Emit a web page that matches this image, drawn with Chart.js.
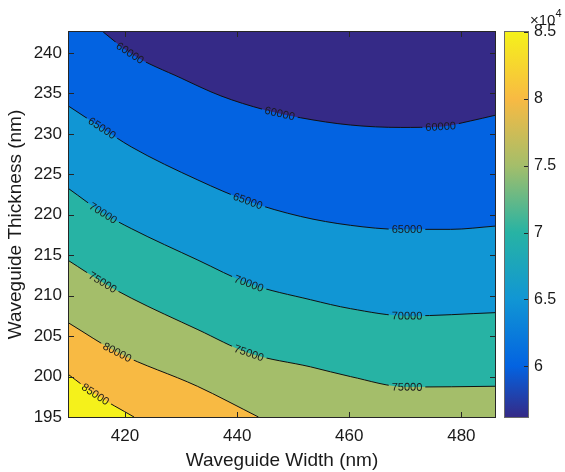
<!DOCTYPE html>
<html>
<head>
<meta charset="utf-8">
<title>Waveguide contour</title>
<script src="https://cdn.jsdelivr.net/npm/chart.js@4.4.0/dist/chart.umd.min.js"></script>
<style>
  html, body { margin: 0; padding: 0; background: #fff; }
  #wrap { position: relative; width: 565px; height: 472px; }
  #plot { position: absolute; left: 0; top: 0; }
  #cbar { position: absolute; left: 497px; top: 0; }
</style>
</head>
<body>
<div id="wrap">
  <canvas id="plot" width="565" height="472"></canvas>
  <canvas id="cbar" width="68" height="472"></canvas>
</div>
<script>
// contour levels and the iso-lines (width nm -> thickness nm)
const levels = [60000, 65000, 70000, 75000, 80000, 85000];

const width60 = [416.1, 421.1, 430.0, 437.1, 444.8, 451.3, 460.2, 469.2, 476.3, 481.6, 486];
const thick60 = [242.6, 239.9, 236.9, 234.7, 233.0, 232.0, 231.1, 230.8, 230.9, 231.6, 232.3];

const width65 = [410, 415.7, 421.1, 433.0, 441.9, 451.3, 460.2, 469.2, 478.1, 486];
const thick65 = [233.4, 230.8, 228.4, 224.3, 221.7, 219.8, 218.7, 218.2, 218.2, 218.6];

const width70 = [410, 416.1, 421.1, 433.0, 442.1, 453.1, 460.2, 470.4, 486];
const thick70 = [223.2, 220.2, 218.3, 214.4, 211.5, 209.5, 208.4, 207.5, 207.9];

const width75 = [410, 416.1, 421.1, 433.0, 442.1, 453.1, 460.2, 470.4, 486];
const thick75 = [214.3, 211.6, 209.7, 205.8, 202.9, 201.2, 200.0, 198.7, 198.8];

const width80 = [410, 418.6, 432.9, 443.8];
const thick80 = [206.6, 203.0, 198.8, 195];

const width85 = [410, 414.7, 421.6];
const thick85 = [200.2, 197.8, 195];

// where the inline contour labels sit (width value along each line)
const label60 = [420.9, 447.6, 476.3];
const label65 = [415.9, 441.9, 470.3];
const label70 = [416.1, 442.1, 470.3];
const label75 = [416.0, 442.1, 470.3];
const label80 = [418.6];
const label85 = [414.7];

const xTicks = [420, 440, 460, 480];
const yTicks = [195, 200, 205, 210, 215, 220, 225, 230, 235, 240];
const cbTicks = [6, 6.5, 7, 7.5, 8, 8.5];
const xRange = [410, 486];
const yRange = [195, 242.6];
const cbRange = [5.62, 8.5]; // x 10^4

const contourWidths = [width60, width65, width70, width75, width80, width85];
const contourThicks = [thick60, thick65, thick70, thick75, thick80, thick85];
const labelWidths = [label60, label65, label70, label75, label80, label85];

// band colours: <60k, 60-65k, 65-70k, 70-75k, 75-80k, 80-85k, >85k
const bandColors = ['#352A87', '#0363E1', '#1196D4', '#27B3A4', '#A4BE6A', '#F8BA43', '#F5F11B'];
const cbStops = [
  [0.0, '#352A87'], [0.132, '#0363E1'], [0.306, '#1196D4'], [0.479, '#27B3A4'],
  [0.653, '#A4BE6A'], [0.826, '#F8BA43'], [1.0, '#F5F11B']
];

const FONT = "'Liberation Sans', Arial, Helvetica, sans-serif";
const INK = '#1a1a1a';
const labelFont = '11px ' + FONT;
Chart.defaults.font.family = FONT;
Chart.defaults.color = INK;

// find a label spot on the drawn (monotone bezier) curve
const labelSpots = (chart, i) => {
  const pts = chart.getDatasetMeta(i).data;
  const xs = chart.scales.x;
  const ctx = chart.ctx;
  const text = String(levels[i]);
  ctx.save();
  ctx.font = labelFont;
  const tw = ctx.measureText(text).width;
  ctx.restore();
  const out = [];
  labelWidths[i].forEach(w => {
    const px = xs.getPixelForValue(w);
    for (let k = 0; k < pts.length - 1; k++) {
      const a = pts[k], b = pts[k + 1];
      if (px >= a.x && px <= b.x) {
        const t = (px - a.x) / (b.x - a.x);
        const u = 1 - t;
        const p0 = a.y, p1 = a.cp2y, p2 = b.cp1y, p3 = b.y;
        const y = u * u * u * p0 + 3 * u * u * t * p1 + 3 * u * t * t * p2 + t * t * t * p3;
        const dy = 3 * u * u * (p1 - p0) + 6 * u * t * (p2 - p1) + 3 * t * t * (p3 - p2);
        out.push({ x: px, y: y, angle: Math.atan2(dy, b.x - a.x), text: text, tw: tw });
        break;
      }
    }
  });
  return out;
};

const contourPlugin = {
  id: 'contourPlugin',
  beforeDraw(chart) {
    const { ctx, chartArea: a } = chart;
    ctx.save();
    ctx.fillStyle = bandColors[1];
    ctx.fillRect(a.left, a.top, a.right - a.left, a.bottom - a.top);
    ctx.restore();
  },
  // leave a gap in the contour line where its label goes
  beforeDatasetDraw(chart, args) {
    const ctx = chart.ctx;
    ctx.save();
    ctx.beginPath();
    ctx.rect(0, 0, chart.width, chart.height);
    labelSpots(chart, args.index).forEach(s => {
      const hw = s.tw / 2 + 3, hh = 7;
      const c = Math.cos(s.angle), sn = Math.sin(s.angle);
      const corners = [[-hw, -hh], [hw, -hh], [hw, hh], [-hw, hh]];
      corners.forEach((p, k) => {
        const X = s.x + p[0] * c - p[1] * sn;
        const Y = s.y + p[0] * sn + p[1] * c;
        if (k === 0) ctx.moveTo(X, Y); else ctx.lineTo(X, Y);
      });
      ctx.closePath();
    });
    ctx.clip('evenodd');
  },
  afterDatasetDraw(chart) {
    chart.ctx.restore();
  },
  afterDatasetsDraw(chart) {
    const { ctx, chartArea: a, scales } = chart;
    ctx.save();
    ctx.font = labelFont;
    ctx.fillStyle = INK;
    ctx.textAlign = 'center';
    ctx.textBaseline = 'middle';
    levels.forEach((lev, i) => {
      labelSpots(chart, i).forEach(s => {
        ctx.save();
        ctx.translate(s.x, s.y);
        ctx.rotate(s.angle);
        ctx.fillText(s.text, 0, 0.5);
        ctx.restore();
      });
    });
    // axes box with inward ticks
    ctx.strokeStyle = '#262626';
    ctx.lineWidth = 1;
    ctx.strokeRect(a.left - 0.5, a.top - 0.5, a.right - a.left + 1, a.bottom - a.top + 1);
    ctx.beginPath();
    const tl = 5;
    xTicks.forEach(v => {
      const px = Math.round(scales.x.getPixelForValue(v)) + 0.5;
      ctx.moveTo(px, a.bottom); ctx.lineTo(px, a.bottom - tl);
      ctx.moveTo(px, a.top); ctx.lineTo(px, a.top + tl);
    });
    yTicks.forEach(v => {
      const py = Math.round(scales.y.getPixelForValue(v)) + 0.5;
      ctx.moveTo(a.left, py); ctx.lineTo(a.left + tl, py);
      ctx.moveTo(a.right, py); ctx.lineTo(a.right - tl, py);
    });
    ctx.stroke();
    ctx.restore();
  }
};

const datasets = levels.map((lev, i) => ({
  label: String(lev),
  data: contourWidths[i].map((w, k) => ({ x: w, y: contourThicks[i][k] })),
  borderColor: '#111',
  borderWidth: 1,
  pointRadius: 0,
  cubicInterpolationMode: 'monotone',
  fill: i === 0 ? 'end' : 'start',
  backgroundColor: i === 0 ? bandColors[0] : bandColors[i + 1],
  order: levels.length - i
}));

new Chart(document.getElementById('plot'), {
  type: 'line',
  data: { datasets: datasets },
  options: {
    responsive: false,
    animation: false,
    layout: { padding: { top: 32, right: 70, bottom: 0, left: 0 } },
    plugins: { legend: { display: false }, tooltip: { enabled: false } },
    scales: {
      x: {
        type: 'linear', min: xRange[0], max: xRange[1],
        afterBuildTicks: s => { s.ticks = xTicks.map(v => ({ value: v })); },
        afterFit: s => { s.height = 55; },
        grid: { display: false, drawTicks: false },
        border: { display: false },
        ticks: { font: { size: 17 }, padding: 9, maxRotation: 0, color: INK },
        title: { display: true, text: 'Waveguide Width (nm)', font: { size: 19 }, padding: 0, color: INK }
      },
      y: {
        type: 'linear', min: yRange[0], max: yRange[1],
        afterBuildTicks: s => { s.ticks = yTicks.map(v => ({ value: v })); },
        afterFit: s => { s.width = 69; },
        grid: { display: false, drawTicks: false },
        border: { display: false },
        ticks: { font: { size: 17 }, padding: 7, color: INK },
        title: { display: true, text: 'Waveguide Thickness (nm)', font: { size: 19 }, padding: { top: 4, bottom: 0 }, color: INK }
      }
    }
  },
  plugins: [contourPlugin]
});

// colour bar
const cbarPlugin = {
  id: 'cbarPlugin',
  afterDraw(chart) {
    const { ctx, chartArea: a, scales } = chart;
    ctx.save();
    ctx.strokeStyle = '#6b6b6b';
    ctx.lineWidth = 1;
    ctx.strokeRect(a.left - 0.5, a.top - 0.5, a.right - a.left + 1, a.bottom - a.top + 1);
    ctx.beginPath();
    cbTicks.forEach(v => {
      const py = Math.round(scales.y.getPixelForValue(v)) + 0.5;
      ctx.moveTo(a.right, py); ctx.lineTo(a.right - 4, py);
    });
    ctx.strokeStyle = '#262626';
    ctx.stroke();
    ctx.fillStyle = INK;
    ctx.textBaseline = 'alphabetic';
    ctx.font = '15px ' + FONT;
    ctx.fillText('\u00d710', a.right + 2, 25);
    const w = ctx.measureText('\u00d710').width;
    ctx.font = '11px ' + FONT;
    ctx.fillText('4', a.right + 2 + w, 17);
    ctx.restore();
  }
};

new Chart(document.getElementById('cbar'), {
  type: 'bar',
  data: {
    labels: [''],
    datasets: [{
      data: [cbRange],
      borderWidth: 0,
      barPercentage: 1,
      categoryPercentage: 1,
      backgroundColor: c => {
        const area = c.chart.chartArea;
        if (!area) return bandColors[3];
        const g = c.chart.ctx.createLinearGradient(0, area.bottom, 0, area.top);
        cbStops.forEach(s => g.addColorStop(s[0], s[1]));
        return g;
      }
    }]
  },
  options: {
    responsive: false,
    animation: false,
    layout: { padding: { top: 32, right: 0, bottom: 55, left: 8 } },
    plugins: { legend: { display: false }, tooltip: { enabled: false } },
    scales: {
      x: { display: false },
      y: {
        position: 'right', min: cbRange[0], max: cbRange[1],
        afterBuildTicks: s => { s.ticks = cbTicks.map(v => ({ value: v })); },
        afterFit: s => { s.width = 37; },
        grid: { display: false, drawTicks: false },
        border: { display: false },
        ticks: { font: { size: 16 }, padding: 6, color: INK, callback: v => String(v) }
      }
    }
  },
  plugins: [cbarPlugin]
});
</script>
</body>
</html>
